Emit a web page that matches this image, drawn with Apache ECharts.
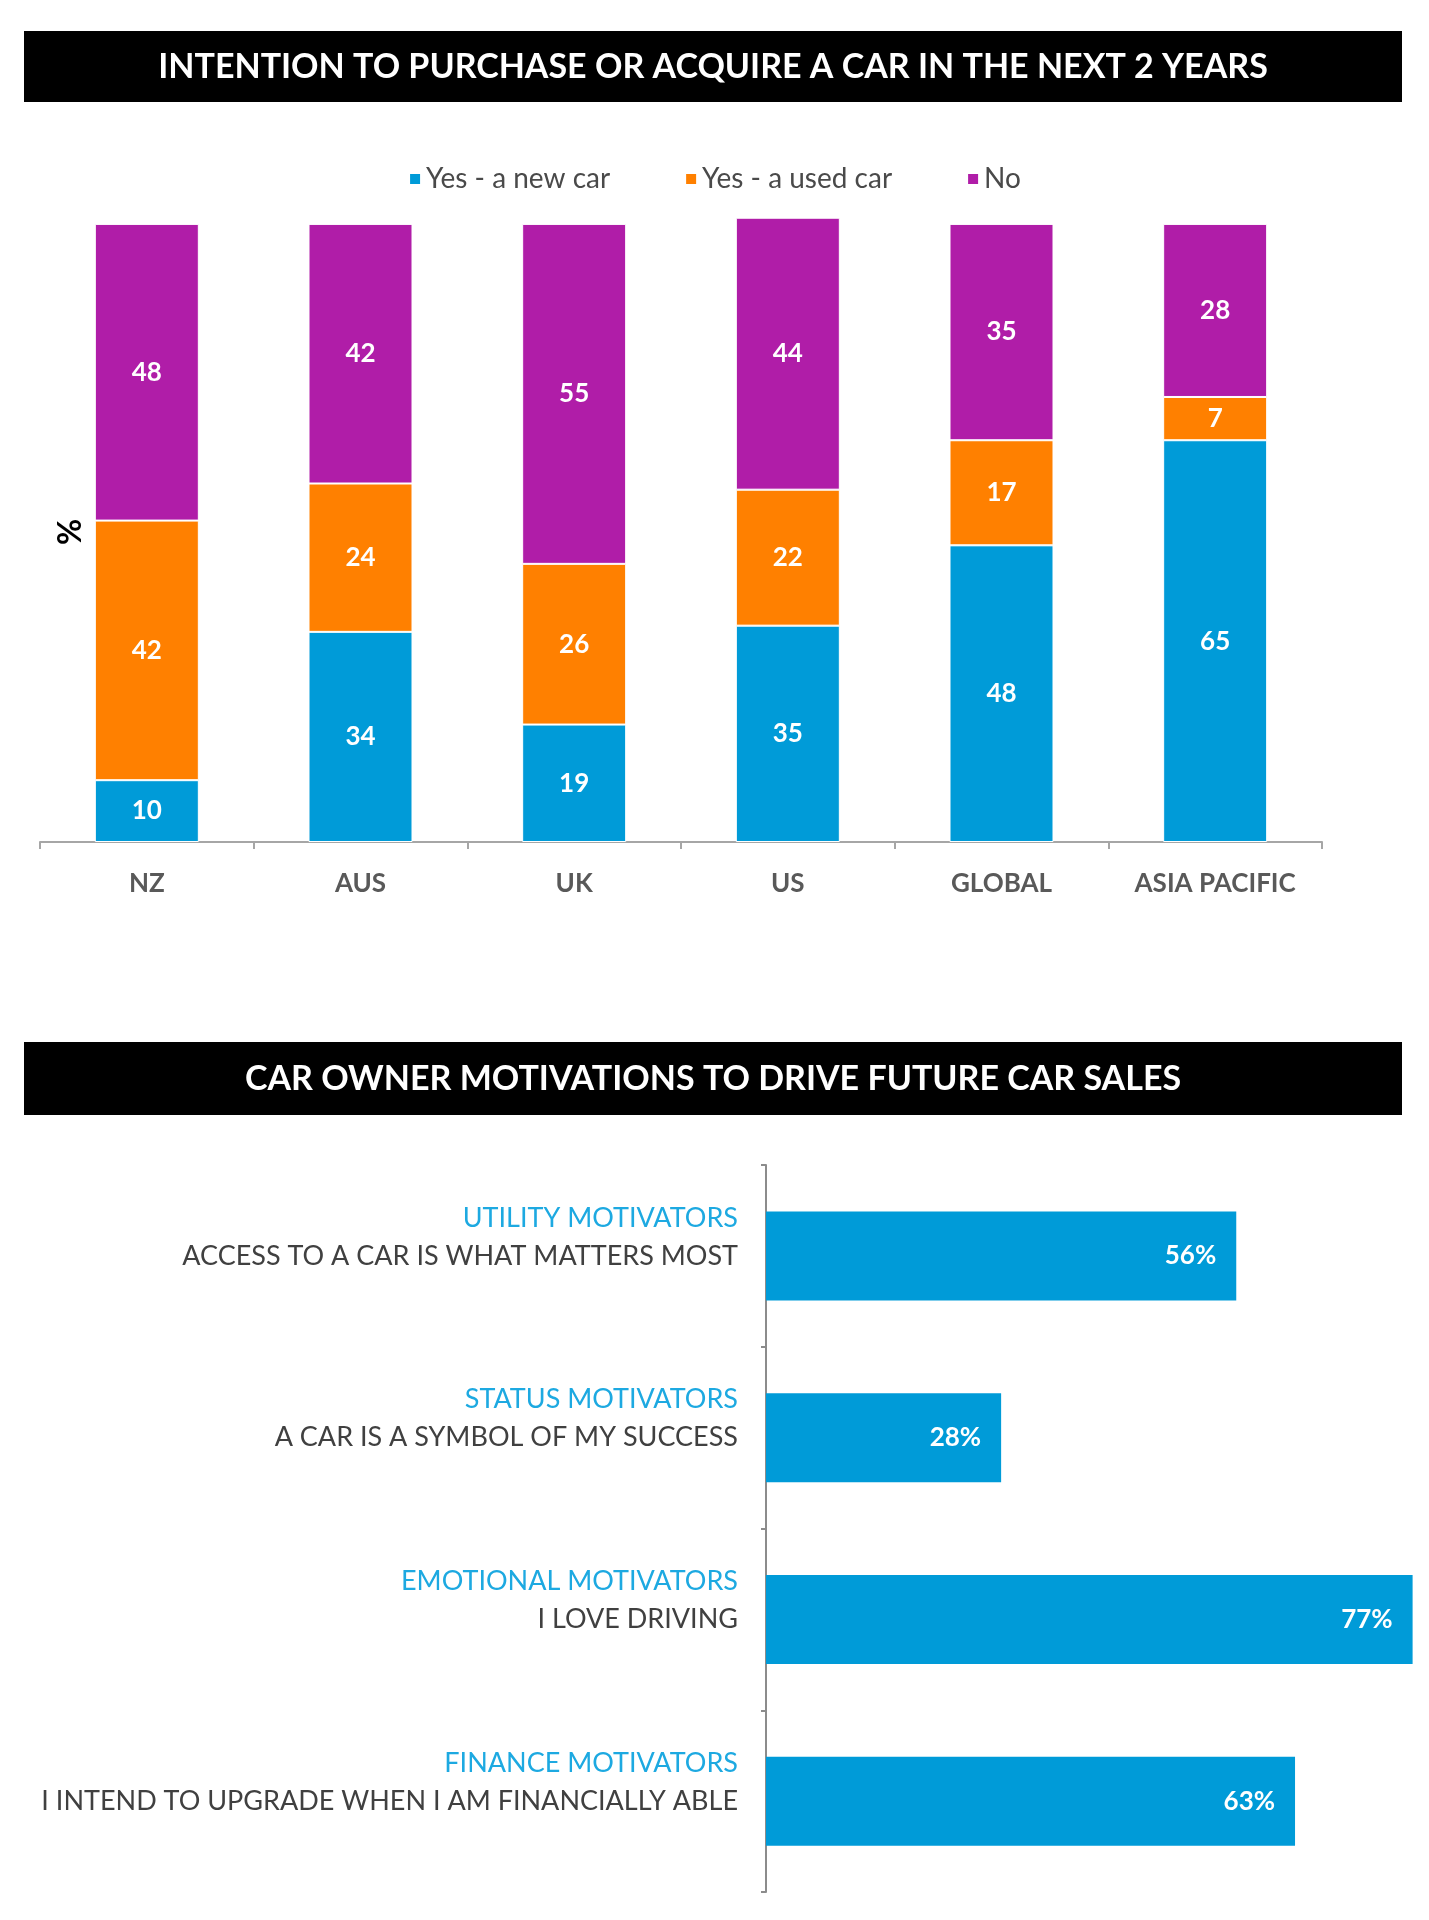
<!DOCTYPE html>
<html><head><meta charset="utf-8">
<script src="https://cdn.jsdelivr.net/npm/echarts@6/dist/echarts.min.js"></script>
<style>html,body{margin:0;padding:0;background:#fff}#c{width:1429px;height:1920px}</style>
</head><body><div id="c"></div>
<script>
// ---- data ----
const regions = ['NZ', 'AUS', 'UK', 'US', 'GLOBAL', 'ASIA PACIFIC'];
const newCar = [10, 34, 19, 35, 48, 65];
const usedCar = [42, 24, 26, 22, 17, 7];
const noCar = [48, 42, 55, 44, 35, 28];
const seriesNames = ['Yes - a new car', 'Yes - a used car', 'No'];
const motivatorGroups = ['UTILITY MOTIVATORS', 'STATUS MOTIVATORS', 'EMOTIONAL MOTIVATORS', 'FINANCE MOTIVATORS'];
const motivatorStatements = ['ACCESS TO A CAR IS WHAT MATTERS MOST', 'A CAR IS A SYMBOL OF MY SUCCESS', 'I LOVE DRIVING', 'I INTEND TO UPGRADE WHEN I AM FINANCIALLY ABLE'];
const motivatorValues = [56, 28, 77, 63];
const titleTop = 'INTENTION TO PURCHASE OR ACQUIRE A CAR IN THE NEXT 2 YEARS';
const titleBottom = 'CAR OWNER MOTIVATIONS TO DRIVE FUTURE CAR SALES';
const yAxisName = '%';

// ---- styles ----
const FONT = 'Lato';
const colors = ['#009BD8', '#FF8000', '#B01DA8'];
const stackData = [newCar, usedCar, noCar];

const chart = echarts.init(document.getElementById('c'), null, {renderer: 'canvas'});
const option = {
  backgroundColor: '#ffffff',
  animation: false,
  textStyle: {fontFamily: FONT},
  graphic: [
    {type: 'rect', shape: {x: 24, y: 31, width: 1378, height: 71}, style: {fill: '#000'}, z: 0},
    {type: 'text', x: 713, y: 67, style: {text: titleTop, fill: '#fff', font: 'bold 34px Lato', textAlign: 'center', textVerticalAlign: 'middle'}, z: 1},
    {type: 'rect', shape: {x: 24, y: 1042, width: 1378, height: 73}, style: {fill: '#000'}, z: 0},
    {type: 'text', x: 713, y: 1079, style: {text: titleBottom, fill: '#fff', font: 'bold 34px Lato', textAlign: 'center', textVerticalAlign: 'middle'}, z: 1},
    {type: 'text', x: 71, y: 532, rotation: Math.PI / 2, style: {text: yAxisName, fill: '#000', font: 'bold 32px Lato', textAlign: 'center', textVerticalAlign: 'middle'}, z: 1}
  ],
  legend: {
    data: seriesNames, top: 160, left: 'center', icon: 'rect', itemWidth: 12, itemHeight: 12, itemGap: 74,
    textStyle: {color: '#4A4A4A', fontSize: 28, fontFamily: FONT}
  },
  grid: [
    {left: 40, right: 107, top: 193, bottom: 1078},
    {left: 766, right: 8, top: 1165, bottom: 28}
  ],
  xAxis: [
    {type: 'category', gridIndex: 0, data: regions,
     axisLine: {lineStyle: {color: '#A6A6A6', width: 2}},
     axisTick: {show: true, length: 7, lineStyle: {color: '#A6A6A6', width: 2}},
     axisLabel: {color: '#595959', fontWeight: 'bold', fontSize: 26, fontFamily: FONT, margin: 29}},
    {type: 'value', gridIndex: 1, min: 0, max: 78, show: false, splitLine: {show: false}}
  ],
  yAxis: [
    {type: 'value', gridIndex: 0, min: 0, max: 105, show: false, splitLine: {show: false}},
    {type: 'category', gridIndex: 1, inverse: true, data: motivatorStatements,
     axisLine: {lineStyle: {color: '#8C8C8C', width: 2}},
     axisTick: {show: true, length: 5, lineStyle: {color: '#8C8C8C', width: 2}},
     axisLabel: {
       margin: 28, padding: [0, 0, 38, 0],
       formatter: function (v, i) { return '{a|' + motivatorGroups[i] + '}\n{b|' + v + '}'; },
       rich: {
         a: {color: '#1DA9E1', fontSize: 27, fontFamily: FONT, lineHeight: 38, align: 'right'},
         b: {color: '#404040', fontSize: 27, fontFamily: FONT, lineHeight: 38, align: 'right'}
       }
     }}
  ],
  series: seriesNames.map((name, k) => ({
    type: 'bar', name: name, stack: 'total', xAxisIndex: 0, yAxisIndex: 0,
    data: stackData[k], barWidth: 104,
    itemStyle: {color: colors[k], borderColor: '#ffffff', borderWidth: 1},
    label: {show: true, position: 'inside', color: '#ffffff', fontWeight: 'bold', fontSize: 26, fontFamily: FONT}
  })).concat([{
    type: 'bar', name: 'motivators', xAxisIndex: 1, yAxisIndex: 1,
    data: motivatorValues, barWidth: 89,
    itemStyle: {color: colors[0]},
    label: {show: true, position: 'insideRight', distance: 20, formatter: '{c}%', color: '#ffffff', fontWeight: 'bold', fontSize: 26, fontFamily: FONT}
  }])
};
chart.setOption(option);
</script>
</body></html>
